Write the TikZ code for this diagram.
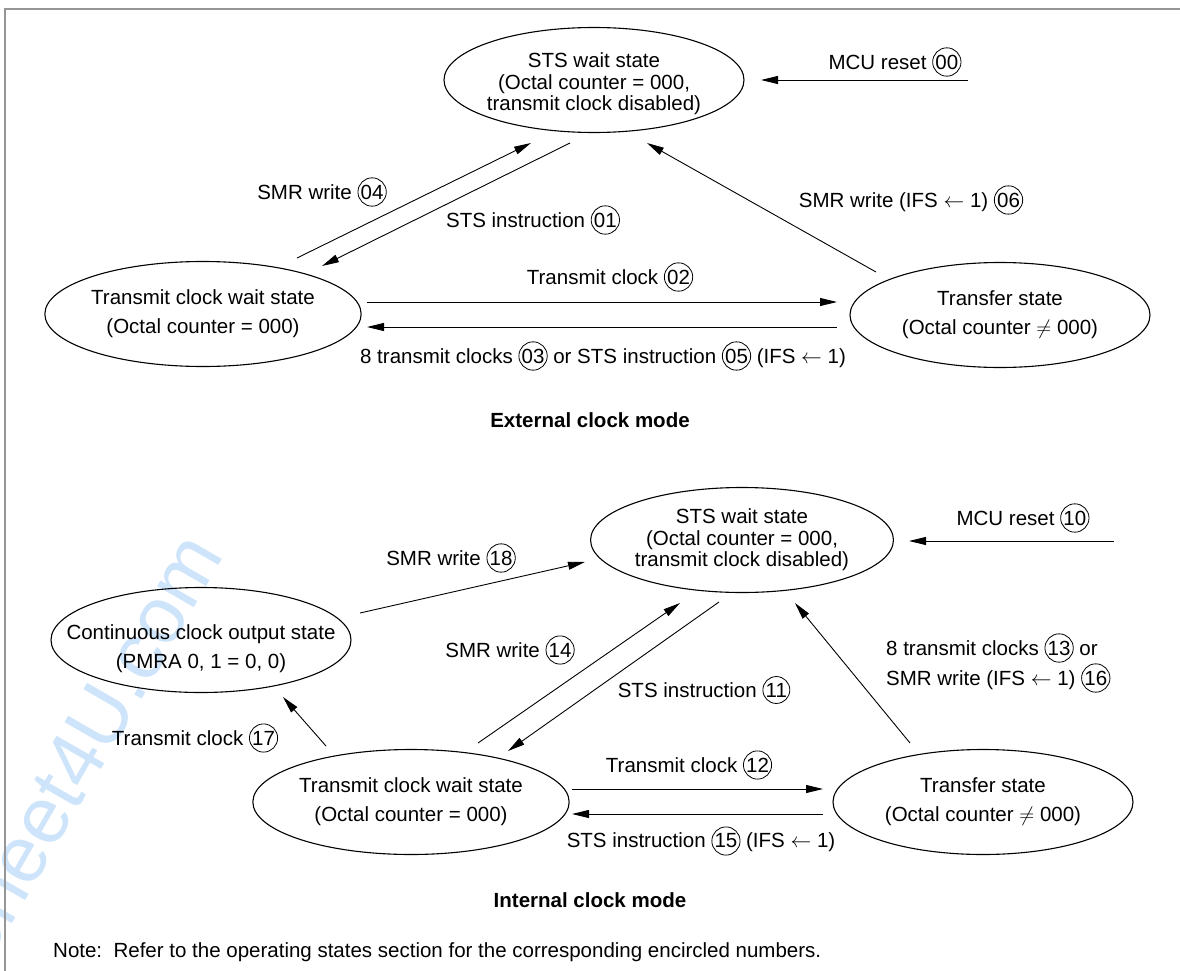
\documentclass[tikz,border=0pt]{standalone}
\usepackage{fontspec}
\setmainfont{Liberation Sans}
\usetikzlibrary{shapes.geometric,arrows.meta}
\definecolor{framegray}{RGB}{150,150,150}
\definecolor{wmblue}{RGB}{205,228,250}
\newcommand{\cnum}[1]{\tikz[baseline=(cn.base)]\node[draw,circle,inner sep=0.5pt,line width=0.8pt](cn){#1};}
\newcommand{\fsz}{\fontsize{20.5}{24}\selectfont}
\begin{document}
\begin{tikzpicture}[x=1pt,y=-1pt,font=\fsz,
  ell/.style={draw, ellipse, line width=1.1pt, inner sep=0pt, align=center, minimum width=300pt, minimum height=105pt},
  twoline/.style={font=\fontsize{20.5}{29}\selectfont},
  threeline/.style={font=\fontsize{20.5}{21.5}\selectfont},
  txt/.style={inner sep=0pt, align=center},
  conn/.style={line width=0.9pt, -{Triangle[length=17pt,width=8pt]}},
  lbl/.style={inner sep=0pt},
  ttl/.style={font=\fontsize{20.5}{24}\selectfont\bfseries}]
\useasboundingbox (0,0) rectangle (1180,971);
% watermark
\node[rotate=60, text=wmblue, font=\fontsize{80}{80}\selectfont, anchor=base east, inner sep=0pt] (wm) at (225,555) {Sheet4U.com};
% frame
\coordinate (fr1) at (5,971); \coordinate (fr2) at (5,9); \coordinate (fr3) at (1180,9);
\draw[framegray, line width=2pt] (fr1) -- (fr2) -- (fr3);

% ---------------- External clock mode ----------------
\node[ell] (sA) at (594,80) {};
\node[txt,threeline] (sAt) at (594,84) {STS wait state\\(Octal counter = 000,\\transmit clock disabled)};
\node[ell,twoline] (wA) at (203,314) {Transmit clock wait state\\(Octal counter = 000)};
\node[ell,twoline] (tA) at (1000,315) {Transfer state\\(Octal counter $\neq$ 000)};

\coordinate (m0s) at (968,80); \coordinate (m0e) at (761,80);
\draw[conn] (m0s) -- (m0e);
\node[lbl] (l00) at (895,62) {MCU reset \cnum{00}};

\coordinate (a04s) at (297,258); \coordinate (a04e) at (531,143);
\draw[conn] (a04s) -- (a04e);
\node[lbl] (l04) at (322,192) {SMR write \cnum{04}};

\coordinate (a01s) at (570,143); \coordinate (a01e) at (322,266);
\draw[conn] (a01s) -- (a01e);
\node[lbl] (l01) at (533,220) {STS instruction \cnum{01}};

\coordinate (a06s) at (876,272); \coordinate (a06e) at (647,143);
\draw[conn] (a06s) -- (a06e);
\node[lbl] (l06) at (911,200) {SMR write (IFS $\leftarrow$ 1) \cnum{06}};

\coordinate (a02s) at (367,302); \coordinate (a02e) at (837,302);
\draw[conn] (a02s) -- (a02e);
\node[lbl] (l02) at (610,277) {Transmit clock \cnum{02}};

\coordinate (a03s) at (837,327); \coordinate (a03e) at (367,327);
\draw[conn] (a03s) -- (a03e);
\node[lbl] (l03) at (603,356) {8 transmit clocks \cnum{03} or STS instruction \cnum{05} (IFS $\leftarrow$ 1)};

\node[ttl] (ext) at (590,420) {External clock mode};

% ---------------- Internal clock mode ----------------
\node[ell,threeline] (sB) at (742,540) {STS wait state\\(Octal counter = 000,\\transmit clock disabled)};
\node[ell] (cB) at (201,640) {};
\node[txt,twoline] (cBt) at (201,649) {Continuous clock output state\\(PMRA 0, 1 = 0, 0)};
\node[ell,twoline] (wB) at (411,802) {Transmit clock wait state\\(Octal counter = 000)};
\node[ell,twoline] (tB) at (983,802) {Transfer state\\(Octal counter $\neq$ 000)};

\coordinate (m1s) at (1114,541); \coordinate (m1e) at (909,541);
\draw[conn] (m1s) -- (m1e);
\node[lbl] (l10) at (1023,518) {MCU reset \cnum{10}};

\coordinate (a18s) at (360,613); \coordinate (a18e) at (585,562);
\draw[conn] (a18s) -- (a18e);
\node[lbl] (l18) at (451,558) {SMR write \cnum{18}};

\coordinate (a14s) at (478,743); \coordinate (a14e) at (680,603);
\draw[conn] (a14s) -- (a14e);
\node[lbl] (l14) at (510,650) {SMR write \cnum{14}};

\coordinate (a11s) at (719,602); \coordinate (a11e) at (508,751);
\draw[conn] (a11s) -- (a11e);
\node[lbl] (l11) at (704,690) {STS instruction \cnum{11}};

\coordinate (a13s) at (910,743); \coordinate (a13e) at (795,603);
\draw[conn] (a13s) -- (a13e);
\node[lbl, anchor=west, align=left, font=\fontsize{20.5}{30}\selectfont] (l13) at (886,663) {8 transmit clocks \cnum{13} or\\SMR write (IFS $\leftarrow$ 1) \cnum{16}};

\coordinate (a17s) at (326,746); \coordinate (a17e) at (283,697);
\draw[conn] (a17s) -- (a17e);
\node[lbl] (l17) at (195,738) {Transmit clock \cnum{17}};

\coordinate (a12s) at (572,789); \coordinate (a12e) at (823,789);
\draw[conn] (a12s) -- (a12e);
\node[lbl] (l12) at (689,765) {Transmit clock \cnum{12}};

\coordinate (a15s) at (823,814); \coordinate (a15e) at (572,814);
\draw[conn] (a15s) -- (a15e);
\node[lbl] (l15) at (701,841) {STS instruction \cnum{15} (IFS $\leftarrow$ 1)};

\node[ttl] (int) at (590,900) {Internal clock mode};

\node[anchor=west, inner sep=0pt] (note) at (53,952) {Note:\ \ Refer to the operating states section for the corresponding encircled numbers.};
\end{tikzpicture}
\end{document}
